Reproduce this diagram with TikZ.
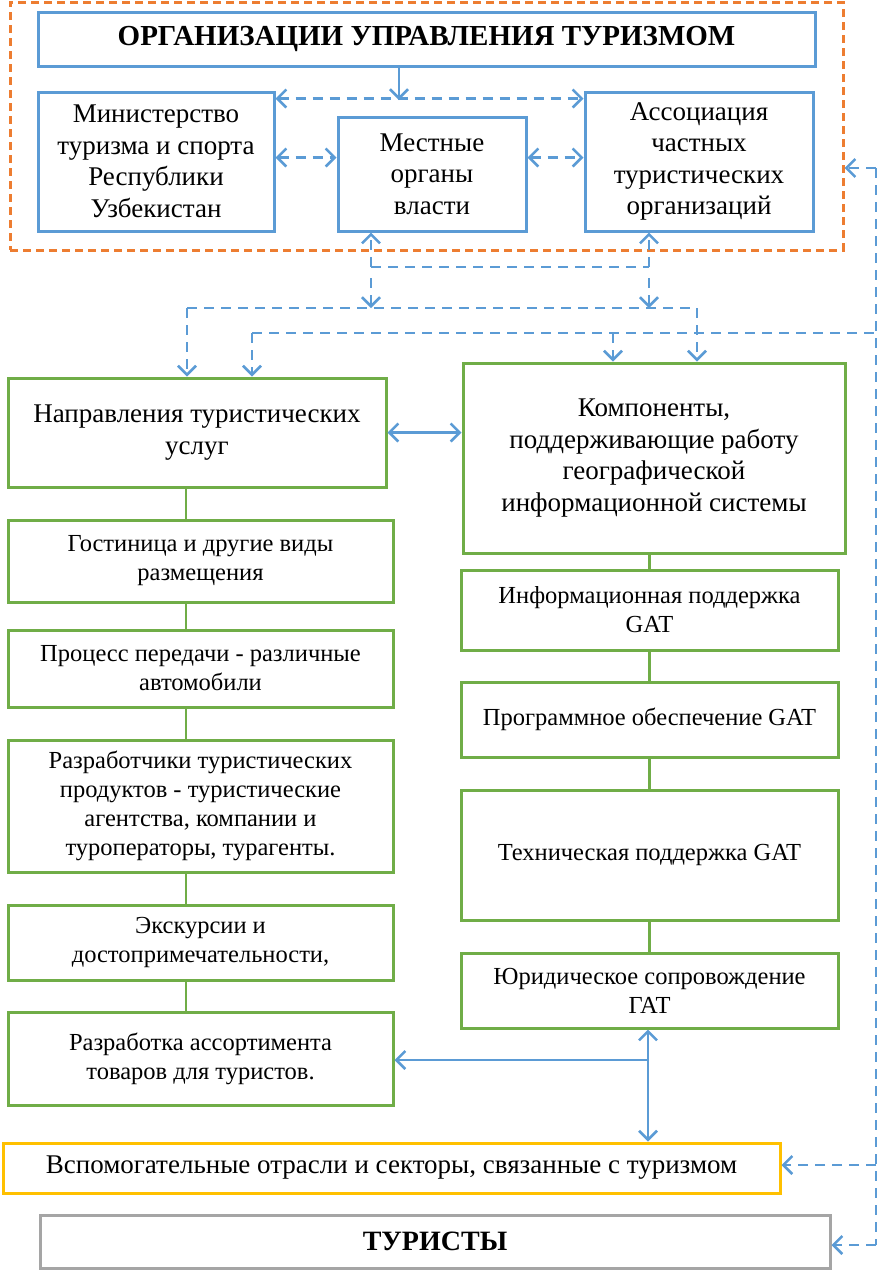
\documentclass[tikz,border=0pt]{standalone}
\usepackage{fontspec}
\setmainfont{Liberation Serif}
\usetikzlibrary{arrows.meta,calc}
\definecolor{FrameClr}{RGB}{237,125,49}
\definecolor{BlueClr}{RGB}{91,155,213}
\definecolor{GreenClr}{RGB}{112,173,71}
\definecolor{YellowClr}{RGB}{255,192,0}
\definecolor{GrayClr}{RGB}{165,165,165}

\begin{document}
\begin{tikzpicture}[x=1pt,y=-1pt,
  box/.style={draw,line width=3pt,align=center,inner sep=2pt},
  bluebox/.style={box,draw=BlueClr,font=\fontsize{27}{31.5}\selectfont},
  greenbox/.style={box,draw=GreenClr,font=\fontsize{24.5}{29}\selectfont},
  bigbox/.style={greenbox,font=\fontsize{27}{31.5}\selectfont},
  link/.style={draw=GreenClr,line width=2.5pt},
  arr/.style={draw=BlueClr,line width=2.5pt,-{Straight Barb[length=9pt,width=18pt,line width=2.5pt]}},
  dbl/.style={arr,{Straight Barb[length=9pt,width=18pt,line width=2.5pt]}-{Straight Barb[length=9pt,width=18pt,line width=2.5pt]}},
  dsh/.style={draw=BlueClr,line width=2.5pt,dash pattern=on 10pt off 7pt}]
\useasboundingbox (0,0) rectangle (880,1270);

% top block
\node[draw=FrameClr,line width=3pt,dash pattern=on 8pt off 5pt,
  minimum width=833pt,minimum height=248pt] (frame) at (426.5,126) {};
\node[bluebox,minimum width=777pt,minimum height=54pt,
  font=\bfseries\fontsize{29}{31}\selectfont] (org) at (426.5,39)
  {ОРГАНИЗАЦИИ УПРАВЛЕНИЯ ТУРИЗМОМ};
\node[bluebox,minimum width=236pt,minimum height=139pt] (min) at (156,161.5)
  {Министерство\\туризма и спорта\\Республики\\Узбекистан};
\node[bluebox,minimum width=188pt,minimum height=114pt] (loc) at (432,174)
  {Местные\\органы\\власти};
\node[bluebox,minimum width=228pt,minimum height=139pt] (assoc) at (699,161.5)
  {Ассоциация\\частных\\туристических\\организаций};

\coordinate (mid) at (399,100);
\draw[arr] (org.south -| mid) -- (mid);
\draw[dbl,dash pattern=on 10pt off 7pt] ([yshift=-8pt]min.north east) -- ([yshift=-8pt]assoc.north west);
\draw[dbl,dash pattern=on 10pt off 7pt] ([yshift=4pt]min.east) -- ([yshift=4pt]min.east -| loc.west);
\draw[dbl,dash pattern=on 10pt off 7pt] ([yshift=4pt]min.east -| loc.east) -- ([yshift=4pt]min.east -| assoc.west);

% left column
\node[bigbox,minimum width=378pt,minimum height=109pt] (dir) at (197,432.5)
  {Направления туристических\\услуг};
\node[greenbox,minimum width=385pt,minimum height=82pt] (hotel) at (200.5,561)
  {Гостиница и другие виды\\размещения};
\node[greenbox,minimum width=385pt,minimum height=77pt] (trans) at (200.5,668.5)
  {Процесс передачи - различные\\автомобили};
\node[greenbox,minimum width=385pt,minimum height=132pt] (devs) at (200.5,806)
  {Разработчики туристических\\продуктов - туристические\\агентства, компании и\\туроператоры, турагенты.};
\node[greenbox,minimum width=385pt,minimum height=75pt] (exc) at (200.5,942.5)
  {Экскурсии и\\достопримечательности,};
\node[greenbox,minimum width=385pt,minimum height=93pt] (goods) at (200.5,1058.5)
  {Разработка ассортимента\\товаров для туристов.};

% right column
\node[bigbox,minimum width=382pt,minimum height=190pt] (comp) at (654,458)
  {Компоненты,\\поддерживающие работу\\географической\\информационной системы};
\node[greenbox,minimum width=377pt,minimum height=80pt] (info) at (649.5,610)
  {Информационная поддержка\\GAT};
\node[greenbox,minimum width=377pt,minimum height=75pt] (soft) at (649.5,719.5)
  {Программное обеспечение GAT};
\node[greenbox,minimum width=377pt,minimum height=130pt] (tech) at (649.5,855)
  {Техническая поддержка GAT};
\node[greenbox,minimum width=377pt,minimum height=75pt] (law) at (649.5,990.5)
  {Юридическое сопровождение\\ГАТ};

% bottom
\node[box,draw=YellowClr,minimum width=777pt,minimum height=50pt,
  font=\fontsize{27}{31}\selectfont] (aux) at (391.5,1168)
  {Вспомогательные отрасли и секторы, связанные с туризмом};
\node[box,draw=GrayClr,minimum width=790pt,minimum height=53pt,
  font=\bfseries\fontsize{28}{31}\selectfont] (tour) at (435,1241.5) {ТУРИСТЫ};

% green links
\coordinate (lc) at (186,0);
\foreach \a/\b in {dir/hotel,hotel/trans,trans/devs,devs/exc,exc/goods}
  \draw[link] (\a.south -| lc) -- (\b.north -| lc);
\foreach \a/\b in {comp/info,info/soft,soft/tech,tech/law}
  \draw[link] (\a.south -| soft) -- (\b.north -| soft);

\draw[dbl] (dir.east) -- (dir.east -| comp.west);

% dashed links between levels
\coordinate (a1) at (371,267);
\coordinate (a2) at (649,267);
\coordinate (b1) at (371,308);
\coordinate (b2) at (649,308);
\coordinate (c1) at (187,308);
\coordinate (c2) at (697,308);
\coordinate (d1) at (252,333);
\coordinate (d2) at (613,333);
\coordinate (rr) at (876,333);
\coordinate (rtop) at (876,168);
\coordinate (raux) at (876,1165);
\coordinate (rbot) at (876,1245);

\draw[dsh] (a1) -- (a2);
\draw[arr,dash pattern=on 10pt off 7pt] (a1) -- (loc.south -| a1);
\draw[arr,dash pattern=on 10pt off 7pt] (a2) -- (assoc.south -| a2);
\draw[arr,dash pattern=on 10pt off 7pt] ([yshift=-11pt]a1) -- (b1);
\draw[arr,dash pattern=on 10pt off 7pt] ([yshift=-11pt]a2) -- (b2);
\draw[dsh] (c1) -- (c2);
\draw[arr,dash pattern=on 10pt off 7pt] (c1) -- (dir.north -| c1);
\draw[arr,dash pattern=on 10pt off 7pt] (c2) -- (comp.north -| c2);
\draw[dsh] (d1) -- (rr);
\draw[arr,dash pattern=on 10pt off 7pt] (d1) -- (dir.north -| d1);
\draw[arr,dash pattern=on 10pt off 7pt] (d2) -- (comp.north -| d2);

\draw[dsh] (rtop) -- (rbot);
\draw[arr,dash pattern=on 10pt off 7pt] (rtop) -- (frame.east |- rtop);
\draw[arr,dash pattern=on 10pt off 7pt] (raux) -- (aux.east |- raux);
\draw[arr,dash pattern=on 10pt off 7pt] (rbot) -- (tour.east |- rbot);

% goods / law / aux
\coordinate (j) at (648,1060);
\draw[arr] (j) -- (goods.east |- j);
\draw[arr] (j) -- (law.south -| j);
\draw[arr] (j) -- (aux.north -| j);

\end{tikzpicture}
\end{document}
